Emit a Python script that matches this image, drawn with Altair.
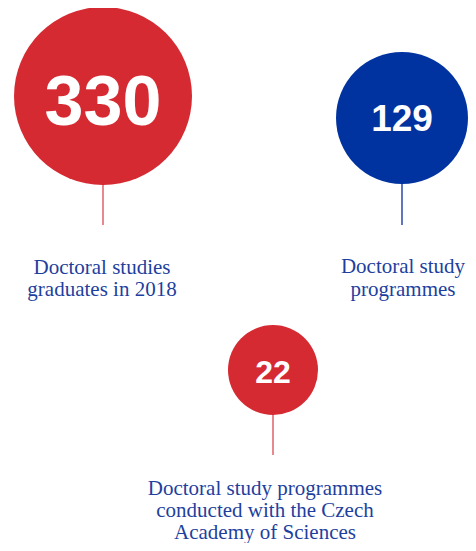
import altair as alt
import pandas as pd

# ---- data ----
values = [330, 129, 22]
numbers = ["330", "129", "22"]
labels = [
    ["Doctoral studies", "graduates in 2018"],
    ["Doctoral study", "programmes"],
    ["Doctoral study programmes", "conducted with the Czech", "Academy of Sciences"],
]
groups = ["red", "blue", "red"]

# ---- layout (page pixel coordinates) ----
cx = [103, 402, 273]
cy = [96, 118, 370]
stem_end = [225, 225, 455]
num_fs = [70, 37, 32]
num_nudge = [4, 0, 2]
label_x = [102, 403, 265]
label_y0 = [274.3, 273.3, 495.3]
line_h = [22, 22.4, 22]

RED = "#d62a33"
BLUE = "#0033a0"
TEXT = "#1e3f9e"

bubbles = pd.DataFrame({
    "value": values,
    "number": numbers,
    "group": groups,
    "stem_group": groups,
    "cx": cx,
    "cy": cy,
    "stem_end": stem_end,
    "fs": num_fs,
    "ny": [c + 0.358 * f + n for c, f, n in zip(cy, num_fs, num_nudge)],
})

rows = []
for i, lines in enumerate(labels):
    for j, t in enumerate(lines):
        rows.append({"text": t, "x": label_x[i], "y": label_y0[i] + j * line_h[i]})
label_df = pd.DataFrame(rows)

W, H = 460, 535
xs = alt.Scale(domain=[8, 8 + W], range=[0, W])
ys = alt.Scale(domain=[8, 8 + H], range=[0, H])
color_scale = alt.Scale(domain=["red", "blue"], range=[RED, BLUE])
stem_scale = alt.Scale(domain=["red", "blue"], range=["#e0606a", "#2a48a8"])

base = alt.Chart(bubbles)

stems = base.mark_rule(strokeWidth=1.5).encode(
    x=alt.X("cx:Q", scale=xs, axis=None),
    y=alt.Y("cy:Q", scale=ys, axis=None),
    y2="stem_end:Q",
    stroke=alt.Stroke("stem_group:N", scale=stem_scale, legend=None),
)

circles = base.mark_circle(opacity=1).encode(
    x=alt.X("cx:Q", scale=xs, axis=None),
    y=alt.Y("cy:Q", scale=ys, axis=None),
    size=alt.Size("value:Q", scale=alt.Scale(domain=[22, 129, 330], range=[8100, 17424, 31684]), legend=None),
    fill=alt.Fill("group:N", scale=color_scale, legend=None),
)

nums = base.mark_text(
    font="Liberation Sans", fontWeight="bold", color="white", align="center", baseline="alphabetic"
).encode(
    x=alt.X("cx:Q", scale=xs, axis=None),
    y=alt.Y("ny:Q", scale=ys, axis=None),
    text="number:N",
    size=alt.Size("fs:Q", scale=None, legend=None),
)

texts = alt.Chart(label_df).mark_text(
    font="Liberation Serif", fontSize=21, color=TEXT, align="center", baseline="alphabetic"
).encode(
    x=alt.X("x:Q", scale=xs, axis=None),
    y=alt.Y("y:Q", scale=ys, axis=None),
    text="text:N",
)

chart = alt.layer(stems, circles, nums, texts).resolve_scale(
    size="independent", fill="independent", stroke="independent"
).properties(
    width=W, height=H, padding=0,
    autosize=alt.AutoSizeParams(type="none"), background="white"
).configure_view(stroke=None)

chart.save("out.html", embed_options={"renderer": "svg", "actions": False})
